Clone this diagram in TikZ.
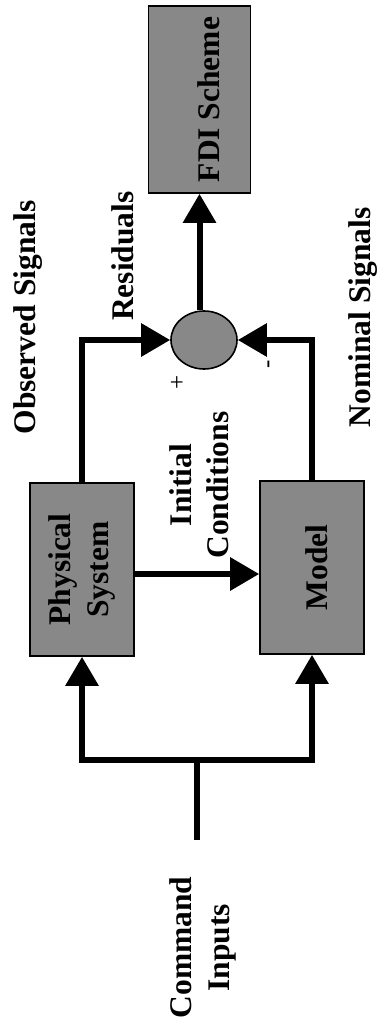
\documentclass[tikz,border=0pt]{standalone}
\usepackage{fontspec}
\setmainfont{Liberation Serif}
\usepackage{graphicx}
\usetikzlibrary{arrows.meta,shapes.geometric,calc}
\definecolor{boxgray}{RGB}{136,136,136}
\begin{document}
\begin{tikzpicture}[x=1pt,y=-1pt,
  blk/.style={draw=black,line width=1.6pt,fill=boxgray,inner sep=0pt,
    font=\bfseries\fontsize{31.5}{37.5}\selectfont},
  lbl/.style={rotate=90,inner sep=0pt,align=center,
    font=\bfseries\fontsize{31.5}{37.5}\selectfont},
  sgn/.style={rotate=90,inner sep=0pt,font=\fontsize{25}{30}\selectfont},
  wire/.style={line width=6pt},
  arr/.style={wire,-{Triangle[width=32pt,length=29pt]}}]
\path[use as bounding box,fill=white] (0,0) rectangle (388,1030);

% blocks
\node[blk,minimum width=102pt,minimum height=187pt] (fdi) at (199.5,99.5)
  {\rotatebox{90}{\raisebox{-9pt}[22pt][0pt]{FDI Scheme}}};
\node[blk,minimum width=104pt,minimum height=173pt] (phys) at (82,569.5)
  {\rotatebox{90}{\begin{tabular}{@{}c@{}}Physical\\System\end{tabular}}};
\node[blk,minimum width=104pt,minimum height=173pt] (model) at (312,567.5)
  {\rotatebox{90}{\raisebox{-4.5pt}[22pt][0pt]{Model}}};
\node[draw=black,line width=1.6pt,fill=boxgray,ellipse,inner sep=0pt,
  minimum width=66pt,minimum height=58pt] (sum) at (204,340) {};

% connectors
\coordinate (ic) at (200,574);
\coordinate (split) at (197,760);
\coordinate (cin) at (197,840);
\draw[arr] (sum.north -| fdi.south) -- (fdi.south);
\draw[arr] (phys.north) |- (sum.west);
\draw[arr] (model.north) |- (sum.east);
\draw[arr] (phys.east |- ic) -- (model.west |- ic);
\draw[wire] (cin) -- (split);
\draw[arr] (split) -| (phys.south);
\draw[arr] (split) -| (model.south);

% labels
\node[lbl] (obs) at (28.5,317.5) {Observed Signals};
\node[lbl] (res) at (122.5,256) {Residuals};
\node[lbl] (nom) at (363.5,317.5) {Nominal Signals};
\node[lbl] (ini) at (199,485) {Initial\\Conditions};
\node[lbl] (cmd) at (203,947.5) {Command\\Inputs};
\node[sgn] (plus) at (178,382) {+};
\node[sgn] (minus) at (271,364) {-};
\end{tikzpicture}
\end{document}
